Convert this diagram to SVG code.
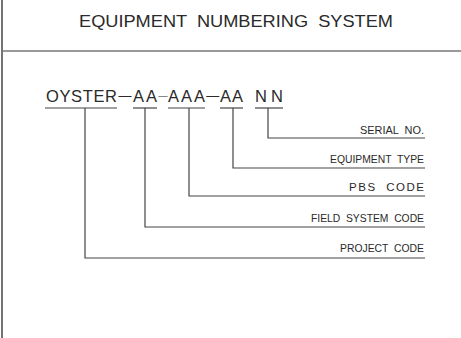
<svg xmlns="http://www.w3.org/2000/svg" width="461" height="338" viewBox="0 0 461 338">
<style>
.frame{stroke:#444;stroke-width:1.5;fill:none}
.sep{stroke:#777;stroke-width:1.5;fill:none}
.ln{stroke:#444;stroke-width:1.2;fill:none}
.t{font-family:"Liberation Sans",Arial,sans-serif;fill:#2a2a2a;white-space:pre}
.title{font-size:17px}
.code{font-size:16.5px}
.lbl{font-size:11.5px}
</style>
<rect width="461" height="338" fill="#fff"/>
<line class="frame" x1="2" y1="0" x2="2" y2="338"/>
<line class="sep" x1="2" y1="51" x2="461" y2="51"/>
<g id="title"><text class="t title" x="79" y="27" textLength="314" lengthAdjust="spacingAndGlyphs" xml:space="preserve">EQUIPMENT  NUMBERING  SYSTEM</text></g>
<g id="code">
<text class="t code" y="102"><tspan x="46 59.44 71.08 82.72 93.46 105.1">OYSTER</tspan><tspan x="118.5" dy="-2" style="font-size:13px">—</tspan><tspan x="133 146" dy="2">AA</tspan><tspan x="158.2" dy="-3" style="font-size:9.5px">—</tspan><tspan x="168 181 194" dy="3">AAA</tspan><tspan x="206.3" dy="-2" style="font-size:13px">—</tspan><tspan x="220 232" dy="2">AA</tspan><tspan x="255 271">NN</tspan></text>
</g>
<g id="connectors">
<line class="ln" x1="45" y1="108" x2="117" y2="108"/>
<line class="ln" x1="133" y1="108" x2="157" y2="108"/>
<line class="ln" x1="168" y1="108" x2="205" y2="108"/>
<line class="ln" x1="220" y1="108" x2="243" y2="108"/>
<line class="ln" x1="255" y1="108" x2="283" y2="108"/>
<polyline class="ln" points="268,108 268,138 425,138"/>
<polyline class="ln" points="233,108 233,168 425,168"/>
<polyline class="ln" points="189,108 189,196 425,196"/>
<polyline class="ln" points="145,108 145,227 425,227"/>
<polyline class="ln" points="85,108 85,258 425,258"/>
</g>
<g id="serial"><text class="t lbl" x="360" y="134" textLength="64" lengthAdjust="spacingAndGlyphs" xml:space="preserve">SERIAL  NO.</text></g>
<g id="equipment-type"><text class="t lbl" x="330" y="163" textLength="94" lengthAdjust="spacingAndGlyphs" xml:space="preserve">EQUIPMENT  TYPE</text></g>
<g id="pbs-code"><text class="t lbl" x="349" y="191" textLength="75" lengthAdjust="spacing" xml:space="preserve">PBS  CODE</text></g>
<g id="field-system-code"><text class="t lbl" x="311" y="222" textLength="113" lengthAdjust="spacingAndGlyphs" xml:space="preserve">FIELD  SYSTEM  CODE</text></g>
<g id="project-code"><text class="t lbl" x="340" y="252" textLength="84" lengthAdjust="spacingAndGlyphs" xml:space="preserve">PROJECT  CODE</text></g>
</svg>
